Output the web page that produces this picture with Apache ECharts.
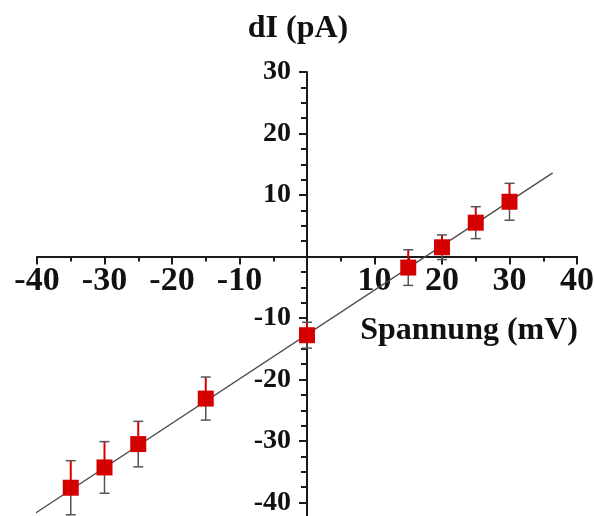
<!DOCTYPE html>
<html>
<head>
<meta charset="utf-8">
<script src="https://cdn.jsdelivr.net/npm/echarts@6/dist/echarts.min.js"></script>
<style>
  html, body { margin: 0; padding: 0; background: #fff; }
  #chart { width: 594px; height: 516px; }
</style>
</head>
<body>
<div id="chart"></div>
<script>
// Membrane voltage (mV) and current change (pA) with standard errors
const voltage = [-35, -30, -25, -15, 0, 15, 20, 25, 30];
const current = [-37.6, -34.3, -30.5, -23.1, -12.8, -1.8, 1.5, 5.5, 8.9];
const errors  = [4.4, 4.2, 3.7, 3.5, 2.1, 2.9, 2.0, 2.6, 3.0];

// Linear fit endpoints
const fitX = [-42, 36.4];
const fitY = [-43.0, 13.6];

const xTicks = [-40, -30, -20, -10, 0, 10, 20, 30, 40];
const yTicks = [-50, -40, -30, -20, -10, 0, 10, 20, 30];

const FONT = 'Liberation Serif';
const AXIS_COLOR = '#1a1a1a';
const RED = '#d40000';

const points = voltage.map((v, i) => [v, current[i]]);
const errData = voltage.map((v, i) => [v, current[i], errors[i]]);
const fitData = fitX.map((v, i) => [v, fitY[i]]);

// Plot frame: the lower part of the y range runs below the visible page
const W = 594, H = 516;
const gridLeft = 37, gridRight = 17, gridTop = 72, gridBottom = -48;
const xMin = xTicks[0], xMax = xTicks[xTicks.length - 1];
const yMin = yTicks[0], yMax = yTicks[yTicks.length - 1];
const plotW = W - gridLeft - gridRight;
const plotH = H - gridTop - gridBottom;
// Shift both axes so they cross at the origin (labels travel with them)
const yAxisOffset = -plotW * (0 - xMin) / (xMax - xMin);
const xAxisOffset = -plotH * (0 - yMin) / (yMax - yMin);

const chart = echarts.init(document.getElementById('chart'), null, { renderer: 'canvas' });

chart.setOption({
  animation: false,
  backgroundColor: '#fff',
  grid: {
    left: gridLeft, right: gridRight, top: gridTop, bottom: gridBottom,
    containLabel: false, outerBoundsMode: 'none'
  },
  xAxis: {
    type: 'value',
    min: xMin,
    max: xMax,
    interval: 10,
    position: 'bottom',
    offset: xAxisOffset,
    name: 'Spannung (mV)',
    nameLocation: 'end',
    nameGap: 1,
    nameTextStyle: {
      fontFamily: FONT, fontWeight: 'bold', fontSize: 32, color: '#111',
      align: 'right', verticalAlign: 'top', padding: [58, 0, 0, 0]
    },
    axisLine: { onZero: false, lineStyle: { color: AXIS_COLOR, width: 2 } },
    axisTick: { show: true, length: 8, lineStyle: { color: AXIS_COLOR, width: 2 } },
    minorTick: { show: true, splitNumber: 2, length: 5, lineStyle: { color: AXIS_COLOR, width: 2 } },
    splitLine: { show: false },
    axisLabel: {
      fontFamily: FONT, fontWeight: 'bold', fontSize: 34, color: '#111', margin: 8,
      formatter: v => (v === 0 ? '' : String(v))
    }
  },
  yAxis: {
    type: 'value',
    min: yMin,
    max: yMax,
    interval: 10,
    position: 'left',
    offset: yAxisOffset,
    name: 'dI (pA)',
    nameLocation: 'end',
    nameGap: 27,
    nameTextStyle: {
      fontFamily: FONT, fontWeight: 'bold', fontSize: 32, color: '#111',
      padding: [0, 18, 0, 0]
    },
    axisLine: { onZero: false, lineStyle: { color: AXIS_COLOR, width: 2 } },
    axisTick: { show: true, length: 8, lineStyle: { color: AXIS_COLOR, width: 2 } },
    minorTick: { show: true, splitNumber: 4, length: 6, lineStyle: { color: AXIS_COLOR, width: 2 } },
    splitLine: { show: false },
    axisLabel: {
      fontFamily: FONT, fontWeight: 'bold', fontSize: 28, color: '#111', margin: 16,
      formatter: v => (v === 0 || v === yMin ? '' : String(v))
    }
  },
  series: [
    {
      name: 'fit',
      type: 'line',
      data: fitData,
      symbol: 'none',
      silent: true,
      lineStyle: { color: '#4a4a4a', width: 1.3 },
      z: 2
    },
    {
      name: 'error',
      type: 'custom',
      data: errData,
      z: 3,
      renderItem: function (params, api) {
        const x = api.value(0), y = api.value(1), e = api.value(2);
        const c = api.coord([x, y]);
        const hi = api.coord([x, y + e]);
        const lo = api.coord([x, y - e]);
        const cap = 5;
        const gray = { stroke: '#555', lineWidth: 1.5 };
        return {
          type: 'group',
          children: [
            { type: 'line', shape: { x1: c[0], y1: c[1], x2: lo[0], y2: lo[1] }, style: gray },
            { type: 'line', shape: { x1: c[0], y1: c[1], x2: hi[0], y2: hi[1] }, style: { stroke: RED, lineWidth: 2 } },
            { type: 'line', shape: { x1: hi[0] - cap, y1: hi[1], x2: hi[0] + cap, y2: hi[1] }, style: gray },
            { type: 'line', shape: { x1: lo[0] - cap, y1: lo[1], x2: lo[0] + cap, y2: lo[1] }, style: gray }
          ]
        };
      }
    },
    {
      name: 'dI',
      type: 'scatter',
      data: points,
      symbol: 'rect',
      symbolSize: 16,
      itemStyle: { color: RED, opacity: 1 },
      z: 4
    }
  ]
});
</script>
</body>
</html>
